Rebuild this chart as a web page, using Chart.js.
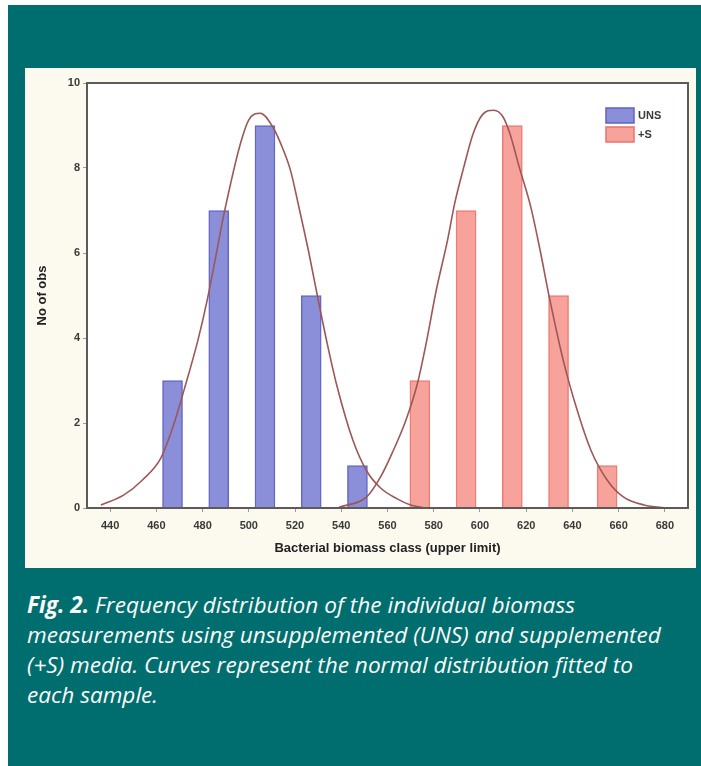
<!DOCTYPE html>
<html>
<head>
<meta charset="utf-8">
<script src="https://cdn.jsdelivr.net/npm/chart.js@4.4.0/dist/chart.umd.min.js"></script>
<style>
  body { margin: 0; background: #fff; width: 701px; height: 766px; overflow: hidden; position: relative; }
  #fig { position: absolute; left: 8px; top: 5px; width: 693px; height: 761px; background: #006e6e; }
  #panel { position: absolute; left: 17px; top: 63px; width: 671px; height: 500px; background: #fcf9ef; }
  #caption { position: absolute; left: 19px; top: 585px; margin: 0; color: #fbfbfb;
             font: italic 22.6px/30px "Open Sans", sans-serif; white-space: nowrap; }
  #caption b { font-weight: 700; }
</style>
</head>
<body>
<div id="fig">
  <div id="panel"><canvas id="myChart" width="671" height="500"></canvas></div>
  <p id="caption"><b>Fig. 2.</b> Frequency distribution of the individual biomass<br>measurements using unsupplemented (UNS) and supplemented<br>(+S) media. Curves represent the normal distribution fitted to<br>each sample.</p>
</div>
<script>
const X_TICKS = [440, 460, 480, 500, 520, 540, 560, 580, 600, 620, 640, 660, 680];
const Y_TICKS = [0, 2, 4, 6, 8, 10];

// histogram bars (class position, count)
const UNS_X = [467, 487, 507, 527, 547];
const UNS_COUNTS = [3, 7, 9, 5, 1];
const PLUS_S_X = [574, 594, 614, 634, 655];
const PLUS_S_COUNTS = [3, 7, 9, 5, 1];

// fitted normal curves
const UNS_CURVE_X = [436, 446, 454, 462, 467, 472, 478, 482, 486, 489, 492, 496, 500, 505, 510, 514, 518, 522, 526, 530, 534, 538, 545, 551, 557, 564, 570, 576];
const UNS_CURVE_Y = [0.07, 0.31, 0.66, 1.18, 1.88, 2.78, 3.95, 4.89, 6.0, 6.85, 7.6, 8.5, 9.13, 9.29, 9.0, 8.55, 7.95, 7.0, 6.0, 4.9, 3.85, 2.9, 1.6, 0.87, 0.47, 0.22, 0.07, 0];
const PLUS_S_CURVE_X = [539, 551, 557, 562, 568, 573, 577, 581, 586, 589, 593, 597, 601, 606, 610, 613, 617, 622, 626, 630, 636, 642, 648, 655, 662, 671, 681];
const PLUS_S_CURVE_Y = [0.02, 0.26, 0.73, 1.29, 2.07, 2.94, 3.95, 5.1, 6.31, 7.15, 8.02, 8.8, 9.25, 9.36, 9.2, 8.8, 8.02, 7.08, 6.07, 4.96, 3.48, 2.31, 1.36, 0.66, 0.26, 0.07, 0];

const pts = (xs, ys) => xs.map((x, i) => ({ x, y: ys[i] }));

const CURVE_COLOR = '#9c5858';
const TEXT_COLOR = '#3a3a3a';

const frame = {
    id: 'frame',
    beforeDraw(chart) {
        const { ctx, chartArea: a } = chart;
        ctx.save();
        ctx.fillStyle = '#ffffff';
        ctx.fillRect(a.left, a.top, a.right - a.left, a.bottom - a.top);
        ctx.restore();
    },
    afterDraw(chart) {
        const { ctx, chartArea: a } = chart;
        ctx.save();
        ctx.strokeStyle = '#5e5a58';
        ctx.lineWidth = 2;
        ctx.strokeRect(a.left, a.top, a.right - a.left, a.bottom - a.top);

        // legend, top right inside the plot
        const entries = [
            { label: 'UNS', fill: '#8b8fd9', border: '#5f63c0' },
            { label: '+S', fill: '#f7a39b', border: '#e8736c' },
        ];
        const bx = a.right - 82;
        entries.forEach((e, i) => {
            const by = a.top + 25 + i * 19;
            ctx.fillStyle = e.fill;
            ctx.fillRect(bx, by, 28, 15);
            ctx.strokeStyle = e.border;
            ctx.lineWidth = 1.5;
            ctx.strokeRect(bx, by, 28, 15);
            ctx.fillStyle = TEXT_COLOR;
            ctx.font = 'bold 11px "Liberation Sans"';
            ctx.textBaseline = 'middle';
            ctx.fillText(e.label, bx + 32, by + 8);
        });
        ctx.restore();
    }
};

new Chart(document.getElementById('myChart'), {
    type: 'bar',
    data: {
        datasets: [
            {
                type: 'line',
                label: 'UNS fit',
                data: pts(UNS_CURVE_X, UNS_CURVE_Y),
                borderColor: CURVE_COLOR,
                borderWidth: 1.6,
                pointRadius: 0,
                cubicInterpolationMode: 'monotone',
                order: 0,
            },
            {
                type: 'line',
                label: '+S fit',
                data: pts(PLUS_S_CURVE_X, PLUS_S_CURVE_Y),
                borderColor: CURVE_COLOR,
                borderWidth: 1.6,
                pointRadius: 0,
                cubicInterpolationMode: 'monotone',
                order: 0,
            },
            {
                label: 'UNS',
                data: pts(UNS_X, UNS_COUNTS),
                backgroundColor: '#8b8fd9',
                borderColor: '#6468c4',
                borderWidth: 1.5,
                barThickness: 20,
                grouped: false,
                order: 1,
            },
            {
                label: '+S',
                data: pts(PLUS_S_X, PLUS_S_COUNTS),
                backgroundColor: '#f7a39b',
                borderColor: '#ec7c75',
                borderWidth: 1.5,
                barThickness: 20,
                grouped: false,
                order: 1,
            },
        ]
    },
    options: {
        responsive: false,
        animation: false,
        layout: { padding: { top: 15, right: 8, bottom: 0, left: 0 } },
        plugins: {
            legend: { display: false },
            tooltip: { enabled: false },
        },
        scales: {
            x: {
                type: 'linear',
                offset: false,
                min: 430,
                max: 690,
                afterBuildTicks: s => { s.ticks = X_TICKS.map(v => ({ value: v })); },
                afterFit: s => { s.height = 60; },
                border: { display: false },
                grid: { drawOnChartArea: false, offset: false, tickLength: 4, color: '#9a9a9a' },
                ticks: {
                    padding: 7, maxRotation: 0, autoSkip: false,
                    color: TEXT_COLOR, font: { family: 'Liberation Sans', size: 11, weight: 'bold' },
                },
                title: {
                    display: true,
                    text: 'Bacterial biomass class (upper limit)',
                    color: '#222',
                    font: { family: 'Liberation Sans', size: 13, weight: 'bold' },
                    padding: { top: 0, bottom: 12 },
                },
            },
            y: {
                min: 0,
                max: 10,
                afterBuildTicks: s => { s.ticks = Y_TICKS.map(v => ({ value: v })); },
                afterFit: s => { s.width = 62; },
                border: { display: false },
                grid: { drawOnChartArea: false, tickLength: 4, color: '#9a9a9a' },
                ticks: {
                    padding: 3,
                    color: TEXT_COLOR, font: { family: 'Liberation Sans', size: 11, weight: 'bold' },
                },
                title: {
                    display: true,
                    text: 'No of obs',
                    color: '#222',
                    font: { family: 'Liberation Sans', size: 13, weight: 'bold' },
                    padding: { top: 10, bottom: 0 },
                },
            },
        },
    },
    plugins: [frame],
});
</script>
</body>
</html>
